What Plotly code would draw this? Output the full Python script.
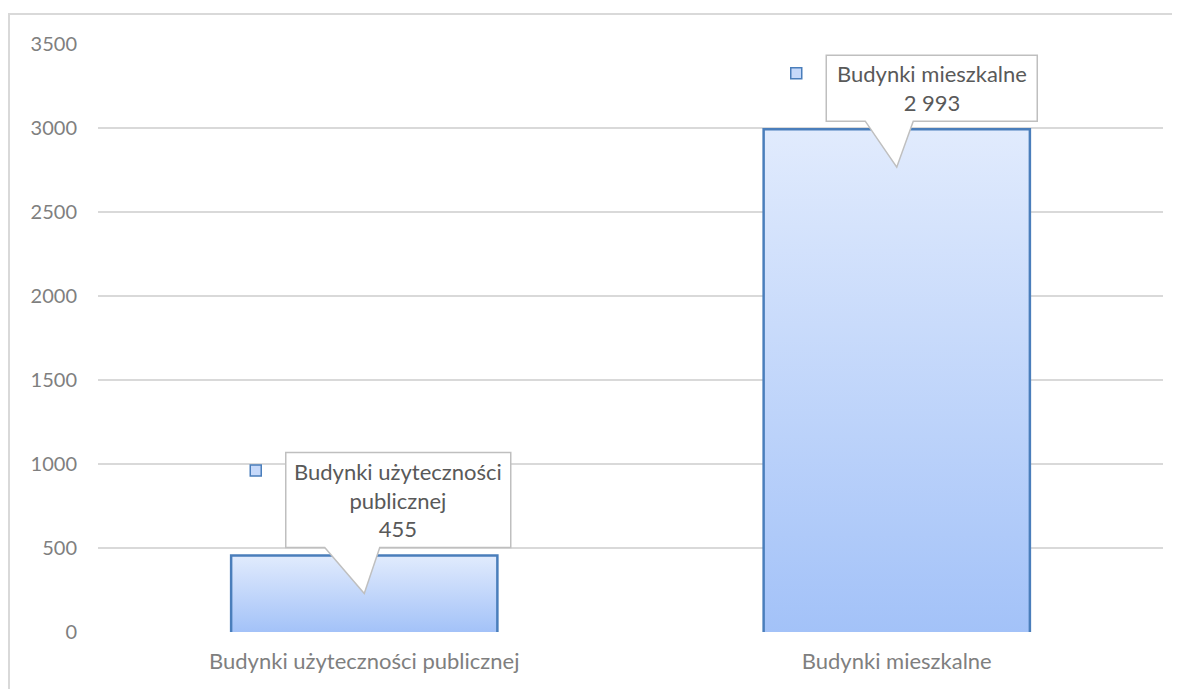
import plotly.graph_objects as go

# ---- data ----
categories = ["Budynki użyteczności publicznej", "Budynki mieszkalne"]
values = [455, 2993]
value_labels = ["455", "2 993"]
callout_titles = ["Budynki użyteczności<br>publicznej", "Budynki mieszkalne"]
y_ticks = [0, 500, 1000, 1500, 2000, 2500, 3000, 3500]

# ---- layout geometry (pixels, page has an 8px body margin) ----
OFF = 8
W, H = 1180 - OFF, 689 - OFF
ML, MT = 98 - OFF, 44 - OFF
MR = W - (1163 - OFF)
MB = H - (632 - OFF)
PW, PH = W - ML - MR, H - MT - MB
YMAX = 3500
XR = (-0.5, 1.5)
ux = (XR[1] - XR[0]) / PW      # x units per px
uy = YMAX / PH                 # y units per px
BAR_W = 0.5

# callout geometry per bar (px relative to bar center / bar top)
box_left = [-78.5, -70.5]
box_right = [146.5, 140.5]
box_h = [95, 66]
ptr_l = [-39.5, -31.5]
ptr_r = [15.5, 16.5]
gap_above = 8
tip_below = 38

BLUE = "#4a7ebb"
GRAD = [[0, "#a3c2f8"], [1, "#e1ebfd"]]
FONT = "Lato, 'Noto Sans', sans-serif"

fig = go.Figure()

xs = list(range(len(categories)))
for i, (xc, v) in enumerate(zip(xs, values)):
    x0, x1 = xc - BAR_W / 2, xc + BAR_W / 2
    fig.add_trace(go.Scatter(
        x=[x0, x0, x1, x1, x0], y=[0, v, v, 0, 0], mode="lines",
        fill="toself", line=dict(width=0, color="rgba(0,0,0,0)"),
        fillgradient=dict(type="vertical", colorscale=GRAD, start=0, stop=v),
        hoverinfo="skip", showlegend=False))
    fig.add_trace(go.Scatter(
        x=[x0, x0, x1, x1], y=[0, v, v, 0], mode="lines",
        line=dict(color=BLUE, width=2.5), hoverinfo="skip", showlegend=False))

shapes = []
annotations = []
for i, (xc, v) in enumerate(zip(xs, values)):
    bl = xc + box_left[i] * ux
    br = xc + box_right[i] * ux
    bb = v + gap_above * uy
    bt = bb + box_h[i] * uy
    pl = xc + ptr_l[i] * ux
    pr = xc + ptr_r[i] * ux
    tip_y = v - tip_below * uy
    path = (f"M {bl},{bb} L {bl},{bt} L {br},{bt} L {br},{bb} "
            f"L {pr},{bb} L {xc},{tip_y} L {pl},{bb} Z")
    shapes.append(dict(type="path", xref="x", yref="y", path=path,
                       fillcolor="white", line=dict(color="#bfbfbf", width=1.5),
                       layer="above"))
    annotations.append(dict(
        x=(bl + br) / 2, y=(bb + bt) / 2, xref="x", yref="y",
        text=f"{callout_titles[i]}<br>{value_labels[i]}", showarrow=False,
        font=dict(family=FONT, size=22, color="#595959"), align="center",
        xanchor="center", yanchor="middle"))
    fig.add_trace(go.Scatter(
        x=[bl - 30 * ux], y=[bt - 18 * uy], mode="markers",
        marker=dict(symbol="square", size=11, color="#c6d9fa",
                    line=dict(color=BLUE, width=1.5)),
        hoverinfo="skip", showlegend=False))

# outer chart border (top + left)
shapes.append(dict(type="rect", xref="paper", yref="paper",
                   x0=(9 - 98) / PW, x1=(1300 - 98) / PW,
                   y0=-1.0, y1=(632 - 14) / PH,
                   line=dict(color="#d9d9d9", width=2), fillcolor="rgba(0,0,0,0)",
                   layer="below"))

fig.update_layout(
    width=W, height=H,
    margin=dict(l=ML, r=MR, t=MT, b=MB, pad=0),
    paper_bgcolor="white", plot_bgcolor="white",
    showlegend=False,
    shapes=shapes, annotations=annotations,
    xaxis=dict(range=list(XR), tickvals=xs, ticktext=categories,
               showgrid=False, zeroline=False, showline=False, ticks="",
               ticklabelstandoff=14,
               tickfont=dict(family=FONT, size=22, color="#7f7f7f"),
               fixedrange=True),
    yaxis=dict(range=[0, YMAX], tickvals=y_ticks, ticktext=[str(t) for t in y_ticks],
               showgrid=True, gridcolor="#d9d9d9", gridwidth=1.5,
               zeroline=False, showline=False, ticks="", ticklabelstandoff=20,
               tickfont=dict(family=FONT, size=20, color="#7f7f7f"),
               fixedrange=True),
)

fig.write_html("out.html")
